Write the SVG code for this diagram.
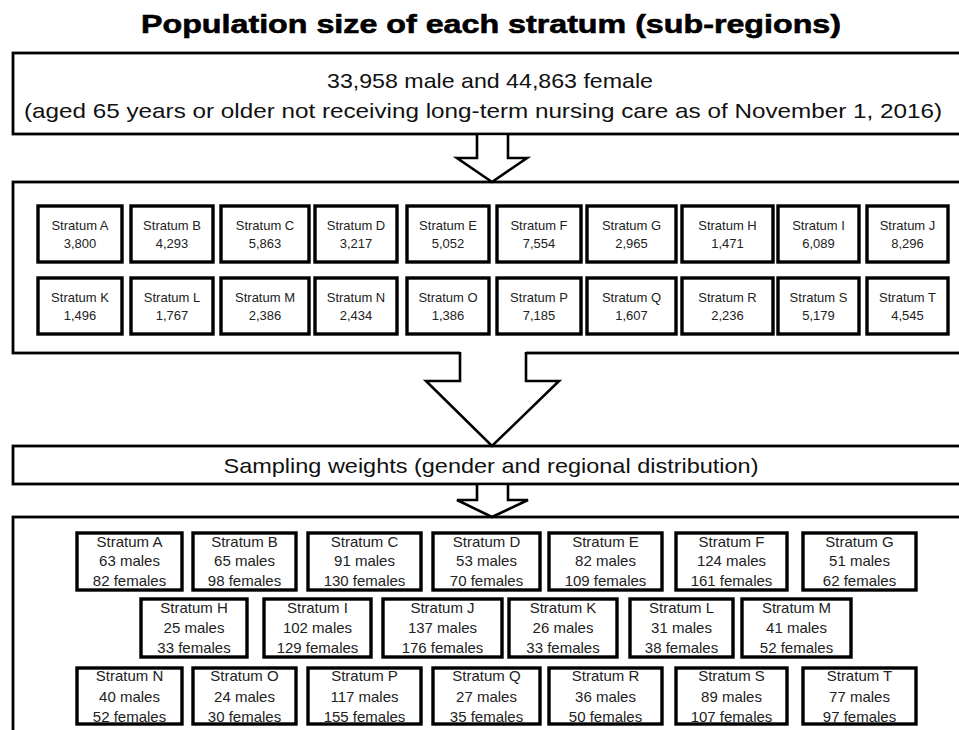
<svg xmlns="http://www.w3.org/2000/svg" width="959" height="730" viewBox="0 0 959 730">
<style>
.outer{fill:#fff;stroke:#000;stroke-width:2.8}
.sb{fill:#fff;stroke:#000;stroke-width:3.4}
.big{font-family:"Liberation Sans",Arial,sans-serif;font-size:21px;fill:#111;text-anchor:middle}
.st{font-family:"Liberation Sans",Arial,sans-serif;font-size:13px;fill:#222;text-anchor:middle}
.sm{font-family:"Liberation Sans",Arial,sans-serif;font-size:15px;fill:#222;text-anchor:middle}
.title{font-family:"Liberation Sans",Arial,sans-serif;font-size:26px;font-weight:bold;fill:#000;text-anchor:middle}
.af{fill:#fff;stroke:none}
.al{fill:none;stroke:#000;stroke-width:2.6;stroke-linejoin:miter}
</style>
<rect width="959" height="730" fill="#fff"/>
<g id="title"><text class="title" x="491" y="33" textLength="700" lengthAdjust="spacingAndGlyphs" stroke="#000" stroke-width="0.6">Population size of each stratum (sub-regions)</text></g>

<g id="population-box">
<rect class="outer" x="13" y="53" width="960" height="81"/>
<text class="big" x="490" y="88" textLength="326" lengthAdjust="spacingAndGlyphs">33,958 male and 44,863 female</text>
<text class="big" x="483" y="118" textLength="918" lengthAdjust="spacingAndGlyphs">(aged 65 years or older not receiving long-term nursing care as of November 1, 2016)</text>
</g>

<g id="strata-box">
<rect class="outer" x="13" y="182" width="960" height="171"/>
</g>

<g id="strata-population">
<g id="pA"><rect class="sb" x="38" y="206" width="84" height="56"/><text class="st" x="80" y="229.5">Stratum A</text><text class="st" x="80" y="247.5">3,800</text></g>
<g id="pB"><rect class="sb" x="131" y="206" width="82" height="56"/><text class="st" x="172" y="229.5">Stratum B</text><text class="st" x="172" y="247.5">4,293</text></g>
<g id="pC"><rect class="sb" x="221" y="206" width="88" height="56"/><text class="st" x="265" y="229.5">Stratum C</text><text class="st" x="265" y="247.5">5,863</text></g>
<g id="pD"><rect class="sb" x="315" y="206" width="82" height="56"/><text class="st" x="356" y="229.5">Stratum D</text><text class="st" x="356" y="247.5">3,217</text></g>
<g id="pE"><rect class="sb" x="407" y="206" width="82" height="56"/><text class="st" x="448" y="229.5">Stratum E</text><text class="st" x="448" y="247.5">5,052</text></g>
<g id="pF"><rect class="sb" x="497" y="206" width="84" height="56"/><text class="st" x="539" y="229.5">Stratum F</text><text class="st" x="539" y="247.5">7,554</text></g>
<g id="pG"><rect class="sb" x="587" y="206" width="89" height="56"/><text class="st" x="631.5" y="229.5">Stratum G</text><text class="st" x="631.5" y="247.5">2,965</text></g>
<g id="pH"><rect class="sb" x="682" y="206" width="91" height="56"/><text class="st" x="727.5" y="229.5">Stratum H</text><text class="st" x="727.5" y="247.5">1,471</text></g>
<g id="pI"><rect class="sb" x="778" y="206" width="81" height="56"/><text class="st" x="818.5" y="229.5">Stratum I</text><text class="st" x="818.5" y="247.5">6,089</text></g>
<g id="pJ"><rect class="sb" x="867" y="206" width="81" height="56"/><text class="st" x="907.5" y="229.5">Stratum J</text><text class="st" x="907.5" y="247.5">8,296</text></g>
<g id="pK"><rect class="sb" x="38" y="278" width="84" height="56"/><text class="st" x="80" y="301.5">Stratum K</text><text class="st" x="80" y="319.5">1,496</text></g>
<g id="pL"><rect class="sb" x="131" y="278" width="82" height="56"/><text class="st" x="172" y="301.5">Stratum L</text><text class="st" x="172" y="319.5">1,767</text></g>
<g id="pM"><rect class="sb" x="221" y="278" width="88" height="56"/><text class="st" x="265" y="301.5">Stratum M</text><text class="st" x="265" y="319.5">2,386</text></g>
<g id="pN"><rect class="sb" x="315" y="278" width="82" height="56"/><text class="st" x="356" y="301.5">Stratum N</text><text class="st" x="356" y="319.5">2,434</text></g>
<g id="pO"><rect class="sb" x="407" y="278" width="82" height="56"/><text class="st" x="448" y="301.5">Stratum O</text><text class="st" x="448" y="319.5">1,386</text></g>
<g id="pP"><rect class="sb" x="497" y="278" width="84" height="56"/><text class="st" x="539" y="301.5">Stratum P</text><text class="st" x="539" y="319.5">7,185</text></g>
<g id="pQ"><rect class="sb" x="587" y="278" width="89" height="56"/><text class="st" x="631.5" y="301.5">Stratum Q</text><text class="st" x="631.5" y="319.5">1,607</text></g>
<g id="pR"><rect class="sb" x="682" y="278" width="91" height="56"/><text class="st" x="727.5" y="301.5">Stratum R</text><text class="st" x="727.5" y="319.5">2,236</text></g>
<g id="pS"><rect class="sb" x="778" y="278" width="81" height="56"/><text class="st" x="818.5" y="301.5">Stratum S</text><text class="st" x="818.5" y="319.5">5,179</text></g>
<g id="pT"><rect class="sb" x="867" y="278" width="81" height="56"/><text class="st" x="907.5" y="301.5">Stratum T</text><text class="st" x="907.5" y="319.5">4,545</text></g>
</g>

<g id="sampling-box">
<rect class="outer" x="13" y="446" width="960" height="38"/>
<text class="big" x="491" y="473" textLength="535" lengthAdjust="spacingAndGlyphs">Sampling weights (gender and regional distribution)</text>
</g>

<g id="sample-box">
<rect class="outer" x="13" y="517" width="960" height="230"/>
</g>

<g id="strata-sample">
<g id="sA"><rect class="sb" x="77" y="533" width="105" height="57"/><text class="sm" x="129.5" y="547">Stratum A</text><text class="sm" x="129.5" y="566">63 males</text><text class="sm" x="129.5" y="586">82 females</text></g>
<g id="sB"><rect class="sb" x="193" y="533" width="103" height="57"/><text class="sm" x="244.5" y="547">Stratum B</text><text class="sm" x="244.5" y="566">65 males</text><text class="sm" x="244.5" y="586">98 females</text></g>
<g id="sC"><rect class="sb" x="308" y="533" width="113" height="57"/><text class="sm" x="364.5" y="547">Stratum C</text><text class="sm" x="364.5" y="566">91 males</text><text class="sm" x="364.5" y="586">130 females</text></g>
<g id="sD"><rect class="sb" x="433" y="533" width="107" height="57"/><text class="sm" x="486.5" y="547">Stratum D</text><text class="sm" x="486.5" y="566">53 males</text><text class="sm" x="486.5" y="586">70 females</text></g>
<g id="sE"><rect class="sb" x="549" y="533" width="113" height="57"/><text class="sm" x="605.5" y="547">Stratum E</text><text class="sm" x="605.5" y="566">82 males</text><text class="sm" x="605.5" y="586">109 females</text></g>
<g id="sF"><rect class="sb" x="676" y="533" width="111" height="57"/><text class="sm" x="731.5" y="547">Stratum F</text><text class="sm" x="731.5" y="566">124 males</text><text class="sm" x="731.5" y="586">161 females</text></g>
<g id="sG"><rect class="sb" x="803" y="533" width="113" height="57"/><text class="sm" x="859.5" y="547">Stratum G</text><text class="sm" x="859.5" y="566">51 males</text><text class="sm" x="859.5" y="586">62 females</text></g>

<g id="sH"><rect class="sb" x="141" y="599" width="106" height="58"/><text class="sm" x="194" y="613">Stratum H</text><text class="sm" x="194" y="633">25 males</text><text class="sm" x="194" y="653">33 females</text></g>
<g id="sI"><rect class="sb" x="264" y="599" width="107" height="58"/><text class="sm" x="317.5" y="613">Stratum I</text><text class="sm" x="317.5" y="633">102 males</text><text class="sm" x="317.5" y="653">129 females</text></g>
<g id="sJ"><rect class="sb" x="383" y="599" width="119" height="58"/><text class="sm" x="442.5" y="613">Stratum J</text><text class="sm" x="442.5" y="633">137 males</text><text class="sm" x="442.5" y="653">176 females</text></g>
<g id="sK"><rect class="sb" x="509" y="599" width="108" height="58"/><text class="sm" x="563" y="613">Stratum K</text><text class="sm" x="563" y="633">26 males</text><text class="sm" x="563" y="653">33 females</text></g>
<g id="sL"><rect class="sb" x="630" y="599" width="103" height="58"/><text class="sm" x="681.5" y="613">Stratum L</text><text class="sm" x="681.5" y="633">31 males</text><text class="sm" x="681.5" y="653">38 females</text></g>
<g id="sM"><rect class="sb" x="742" y="599" width="109" height="58"/><text class="sm" x="796.5" y="613">Stratum M</text><text class="sm" x="796.5" y="633">41 males</text><text class="sm" x="796.5" y="653">52 females</text></g>

<g id="sN"><rect class="sb" x="77" y="668" width="105" height="56"/><text class="sm" x="129.5" y="681">Stratum N</text><text class="sm" x="129.5" y="702">40 males</text><text class="sm" x="129.5" y="722">52 females</text></g>
<g id="sO"><rect class="sb" x="193" y="668" width="103" height="56"/><text class="sm" x="244.5" y="681">Stratum O</text><text class="sm" x="244.5" y="702">24 males</text><text class="sm" x="244.5" y="722">30 females</text></g>
<g id="sP"><rect class="sb" x="308" y="668" width="113" height="56"/><text class="sm" x="364.5" y="681">Stratum P</text><text class="sm" x="364.5" y="702">117 males</text><text class="sm" x="364.5" y="722">155 females</text></g>
<g id="sQ"><rect class="sb" x="433" y="668" width="107" height="56"/><text class="sm" x="486.5" y="681">Stratum Q</text><text class="sm" x="486.5" y="702">27 males</text><text class="sm" x="486.5" y="722">35 females</text></g>
<g id="sR"><rect class="sb" x="549" y="668" width="113" height="56"/><text class="sm" x="605.5" y="681">Stratum R</text><text class="sm" x="605.5" y="702">36 males</text><text class="sm" x="605.5" y="722">50 females</text></g>
<g id="sS"><rect class="sb" x="676" y="668" width="111" height="56"/><text class="sm" x="731.5" y="681">Stratum S</text><text class="sm" x="731.5" y="702">89 males</text><text class="sm" x="731.5" y="722">107 females</text></g>
<g id="sT"><rect class="sb" x="803" y="668" width="113" height="56"/><text class="sm" x="859.5" y="681">Stratum T</text><text class="sm" x="859.5" y="702">77 males</text><text class="sm" x="859.5" y="722">97 females</text></g>
</g>

<g id="connectors">
<g id="arrow1">
<polygon class="af" points="477,135.5 477,158 457,158 492,182 527,158 508,158 508,135.5"/>
<polyline class="al" points="477,134 477,158 457,158 492,182 527,158 508,158 508,134"/>
</g>
<g id="arrow2">
<polygon class="af" points="460,351 460,381 426,381 492,446 559,381 526,381 526,351"/>
<polyline class="al" points="460,352 460,381 426,381 492,446 559,381 526,381 526,352"/>
</g>
<g id="arrow3">
<polygon class="af" points="477,485.5 477,500 457,500 492,517 528,500 508,500 508,485.5"/>
<polyline class="al" points="477,484 477,500 457,500 492,517 528,500 508,500 508,484"/>
</g>
</g>
</svg>
